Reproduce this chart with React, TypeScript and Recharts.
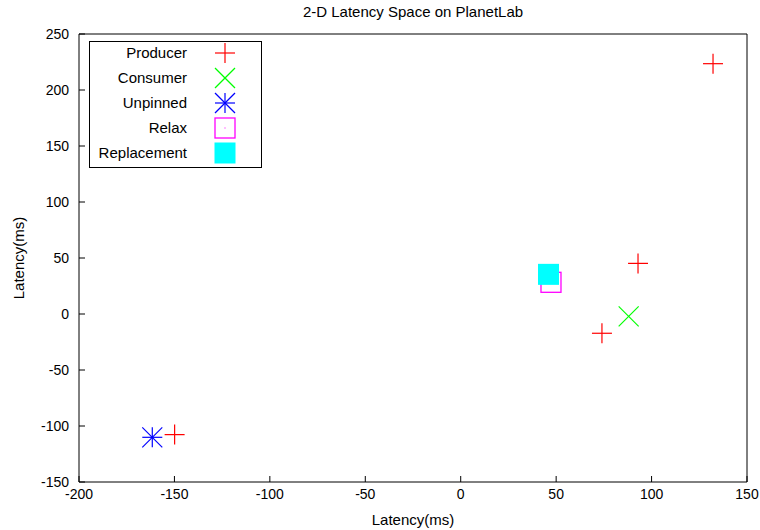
import React from 'react';
import { ScatterChart, Scatter, XAxis, YAxis, ReferenceArea, Legend } from 'recharts';

const chartTitle = '2-D Latency Space on PlanetLab';
const xLabel = 'Latency(ms)';
const yLabel = 'Latency(ms)';
const xTicks = [-200, -150, -100, -50, 0, 50, 100, 150];
const yTicks = [-150, -100, -50, 0, 50, 100, 150, 200, 250];

const producer = [
  { x: 132.2, y: 223.5 },
  { x: 92.9, y: 45.2 },
  { x: 74.0, y: -17.2 },
  { x: -149.9, y: -107.7 },
];
const consumer = [{ x: 88.0, y: -2.1 }];
const unpinned = [{ x: -161.6, y: -110.1 }];
const relax = [{ x: 47.3, y: 28.3 }];
const replacement = [{ x: 46.0, y: 35.4 }];

const seriesNames = ['Producer', 'Consumer', 'Unpinned', 'Relax', 'Replacement'];
const seriesKinds = ['plus', 'cross', 'star', 'box', 'fbox'];
const seriesData = [producer, consumer, unpinned, relax, replacement];

const FONT = '"Liberation Sans", Arial, Helvetica, sans-serif';
const TICK = 6;

function Marker({ kind, cx, cy }: { kind: string; cx: number; cy: number }) {
  const r = 10;
  switch (kind) {
    case 'plus':
      return (
        <g stroke="#ff0000" strokeWidth={1.2}>
          <line x1={cx - r} y1={cy} x2={cx + r} y2={cy} />
          <line x1={cx} y1={cy - r} x2={cx} y2={cy + r} />
        </g>
      );
    case 'cross':
      return (
        <g stroke="#00ff00" strokeWidth={1.2}>
          <line x1={cx - r} y1={cy - r} x2={cx + r} y2={cy + r} />
          <line x1={cx - r} y1={cy + r} x2={cx + r} y2={cy - r} />
        </g>
      );
    case 'star':
      return (
        <g stroke="#0000ff" strokeWidth={1.2}>
          <line x1={cx - r} y1={cy} x2={cx + r} y2={cy} />
          <line x1={cx} y1={cy - r} x2={cx} y2={cy + r} />
          <line x1={cx - r} y1={cy - r} x2={cx + r} y2={cy + r} />
          <line x1={cx - r} y1={cy + r} x2={cx + r} y2={cy - r} />
        </g>
      );
    case 'box':
      return (
        <g>
          <rect x={cx - r} y={cy - r} width={2 * r} height={2 * r} fill="none" stroke="#ff00ff" strokeWidth={1.3} />
          <rect x={cx - 0.5} y={cy - 0.5} width={1} height={1} fill="#ff00ff" />
        </g>
      );
    case 'fbox':
    default:
      return <rect x={cx - 10.5} y={cy - 10.5} width={21} height={21} fill="#00ffff" />;
  }
}

const makeShape = (kind: string) => (props: any) => <Marker kind={kind} cx={props.cx} cy={props.cy} />;

const BottomTick = (props: any) => {
  const { x, y, payload } = props;
  return (
    <g>
      <line x1={x} y1={y} x2={x} y2={y - TICK} stroke="#000" strokeWidth={1} />
      <text x={x} y={y + 17} textAnchor="middle" fontSize={14} fontFamily={FONT} fill="#000">
        {payload.value}
      </text>
    </g>
  );
};
const TopTick = (props: any) => {
  const { x, y } = props;
  return <line x1={x} y1={y} x2={x} y2={y + TICK} stroke="#000" strokeWidth={1} />;
};
const LeftTick = (props: any) => {
  const { x, y, payload } = props;
  return (
    <g>
      <line x1={x} y1={y} x2={x + TICK} y2={y} stroke="#000" strokeWidth={1} />
      <text x={x - 10} y={y + 5} textAnchor="end" fontSize={14} fontFamily={FONT} fill="#000">
        {payload.value}
      </text>
    </g>
  );
};
const RightTick = (props: any) => {
  const { x, y } = props;
  return <line x1={x} y1={y} x2={x - TICK} y2={y} stroke="#000" strokeWidth={1} />;
};

const ROW0 = 11.3;
const LegendBox = () => (
  <div
    style={{
      width: 171,
      height: 125,
      border: '1px solid #000',
      background: '#fff',
      position: 'relative',
      fontFamily: FONT,
      fontSize: 15,
      boxSizing: 'content-box',
    }}
  >
    {seriesNames.map((name, i) => (
      <div key={name}>
        <div
          style={{
            position: 'absolute',
            right: 171 - 97,
            top: ROW0 + i * 25 - 9,
            lineHeight: '18px',
            whiteSpace: 'nowrap',
            color: '#000',
          }}
        >
          {name}
        </div>
        <svg
          style={{ position: 'absolute', left: 135 - 13, top: ROW0 + i * 25 - 13 }}
          width={26}
          height={26}
        >
          <Marker kind={seriesKinds[i]} cx={13} cy={13} />
        </svg>
      </div>
    ))}
  </div>
);

export default function App() {
  return (
    <div style={{ position: 'absolute', left: 0, top: 0, width: 760, height: 530, background: '#fff' }}>
      <div
        style={{
          position: 'absolute',
          left: 79,
          width: 668,
          top: 3,
          textAlign: 'center',
          fontFamily: FONT,
          fontSize: 15,
          lineHeight: '18px',
          color: '#000',
        }}
      >
        {chartTitle}
      </div>
      <ScatterChart width={760} height={530} margin={{ top: 34, right: 13, left: 0, bottom: 0 }}>
        <XAxis
          xAxisId="b"
          type="number"
          dataKey="x"
          domain={[-200, 150]}
          ticks={xTicks}
          allowDataOverflow
          height={48}
          tickSize={0}
          tickMargin={0}
          tickLine={false}
          axisLine={false}
          tick={BottomTick}
          interval={0}
          label={{
            content: (p: any) => {
              const vb = p.viewBox || {};
              return (
                <text
                  x={vb.x + vb.width / 2}
                  y={525}
                  textAnchor="middle"
                  fontSize={15}
                  fontFamily={FONT}
                  fill="#000"
                >
                  {xLabel}
                </text>
              );
            },
          }}
        />
        <XAxis
          xAxisId="t"
          orientation="top"
          type="number"
          dataKey="x"
          domain={[-200, 150]}
          ticks={xTicks}
          allowDataOverflow
          height={0}
          tickSize={0}
          tickMargin={0}
          tickLine={false}
          axisLine={false}
          tick={TopTick}
          interval={0}
        />
        <YAxis
          yAxisId="l"
          type="number"
          dataKey="y"
          domain={[-150, 250]}
          ticks={yTicks}
          allowDataOverflow
          width={79}
          tickSize={0}
          tickMargin={0}
          tickLine={false}
          axisLine={false}
          tick={LeftTick}
          interval={0}
          label={{
            content: (p: any) => {
              const vb = p.viewBox || {};
              const cy = vb.y + vb.height / 2;
              return (
                <text
                  x={18}
                  y={cy}
                  transform={`rotate(-90, 18, ${cy})`}
                  textAnchor="middle"
                  dominantBaseline="central"
                  fontSize={15}
                  fontFamily={FONT}
                  fill="#000"
                >
                  {yLabel}
                </text>
              );
            },
          }}
        />
        <YAxis
          yAxisId="r"
          orientation="right"
          type="number"
          dataKey="y"
          domain={[-150, 250]}
          ticks={yTicks}
          allowDataOverflow
          width={0}
          tickSize={0}
          tickMargin={0}
          tickLine={false}
          axisLine={false}
          tick={RightTick}
          interval={0}
        />
        <ReferenceArea
          xAxisId="b"
          yAxisId="l"
          x1={-200}
          x2={150}
          y1={-150}
          y2={250}
          fill="none"
          fillOpacity={0}
          stroke="#000"
          strokeWidth={1}
          ifOverflow="extendDomain"
        />
        {seriesNames.map((name, i) => (
          <Scatter
            key={name}
            name={name}
            data={seriesData[i]}
            xAxisId="b"
            yAxisId="l"
            shape={makeShape(seriesKinds[i])}
            isAnimationActive={false}
          />
        ))}
        <Scatter
          name="_top"
          data={[]}
          xAxisId="t"
          yAxisId="r"
          isAnimationActive={false}
          legendType="none"
        />
        <Legend
          layout="vertical"
          align="center"
          verticalAlign="middle"
          content={() => <LegendBox />}
          wrapperStyle={{ position: 'absolute', left: 89, top: 41, width: 173, height: 127 }}
        />
      </ScatterChart>
    </div>
  );
}
